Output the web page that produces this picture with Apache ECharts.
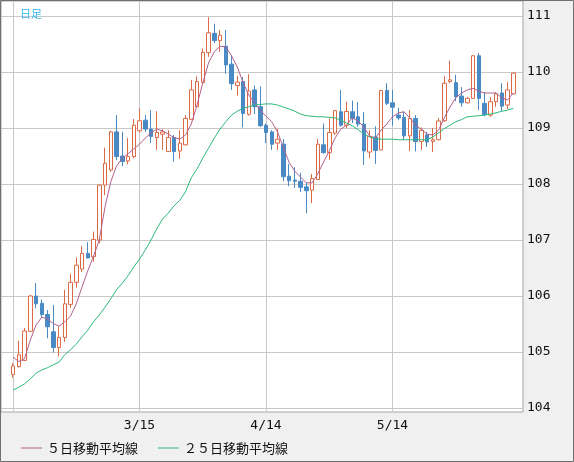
<!DOCTYPE html>
<html><head><meta charset="utf-8">
<script src="https://cdn.jsdelivr.net/npm/echarts@6/dist/echarts.min.js"></script>
<style>html,body{margin:0;padding:0;background:#f0f0f0}#c{width:574px;height:462px}</style>
</head><body><div id="c"></div>
<script>
const dates = [
 '2021-02-11','2021-02-12','2021-02-15','2021-02-16','2021-02-17','2021-02-18','2021-02-19','2021-02-22','2021-02-23','2021-02-24','2021-02-25','2021-02-26',
 '2021-03-01','2021-03-02','2021-03-03','2021-03-04','2021-03-05','2021-03-08','2021-03-09','2021-03-10','2021-03-11','2021-03-12',
 '2021-03-15','2021-03-16','2021-03-17','2021-03-18','2021-03-19','2021-03-22','2021-03-23','2021-03-24','2021-03-25','2021-03-26','2021-03-29','2021-03-30','2021-03-31',
 '2021-04-01','2021-04-02','2021-04-05','2021-04-06','2021-04-07','2021-04-08','2021-04-09','2021-04-12','2021-04-13',
 '2021-04-14','2021-04-15','2021-04-16','2021-04-19','2021-04-20','2021-04-21','2021-04-22','2021-04-23','2021-04-26','2021-04-27','2021-04-28','2021-04-29','2021-04-30',
 '2021-05-03','2021-05-04','2021-05-05','2021-05-06','2021-05-07','2021-05-10','2021-05-11','2021-05-12','2021-05-13',
 '2021-05-14','2021-05-17','2021-05-18','2021-05-19','2021-05-20','2021-05-21','2021-05-24','2021-05-25','2021-05-26','2021-05-27','2021-05-28','2021-05-31',
 '2021-06-01','2021-06-02','2021-06-03','2021-06-04','2021-06-07','2021-06-08','2021-06-09','2021-06-10','2021-06-11','2021-06-14'
];
const open = [104.60,104.74,104.85,105.37,106.00,105.87,105.67,105.36,105.08,105.26,105.85,106.245,106.48,106.76,106.70,107.00,107.98,108.25,108.93,108.50,108.41,108.49,
 108.95,109.14,108.98,108.83,108.89,108.58,108.83,108.59,108.70,109.155,109.38,109.81,110.345,110.69,110.56,110.46,110.14,109.76,109.83,109.245,109.68,109.38,
 109.05,108.93,108.73,108.71,108.14,108.07,108.05,107.95,107.89,108.08,108.70,108.56,108.91,109.29,109.05,109.29,109.20,109.07,108.57,108.84,108.61,109.67,
 109.45,109.23,109.19,108.86,109.17,108.76,108.875,108.76,108.79,109.13,109.83,109.81,109.57,109.45,109.53,110.29,109.44,109.23,109.47,109.625,109.41,109.61];
const close = [104.75,104.95,105.375,106.00,105.86,105.67,105.45,105.08,105.26,105.86,106.245,106.55,106.76,106.68,107.01,107.98,108.37,108.93,108.49,108.40,108.49,109.05,
 109.13,108.98,108.85,108.92,108.93,108.83,108.58,108.73,109.17,109.68,109.83,110.35,110.70,110.56,110.655,110.125,109.79,109.82,109.26,109.66,109.38,109.04,
 108.92,108.71,108.80,108.13,108.06,108.05,107.94,107.88,108.10,108.71,108.56,108.92,109.31,109.05,109.295,109.17,109.07,108.59,108.85,108.60,109.67,109.44,
 109.37,109.18,108.86,109.17,108.76,108.96,108.75,108.79,109.125,109.80,109.86,109.56,109.45,109.53,110.29,109.53,109.24,109.47,109.61,109.39,109.68,109.98];
const low = [104.54,104.72,104.84,105.36,105.78,105.62,105.245,104.99,104.92,105.18,105.79,106.15,106.43,106.67,106.61,106.94,107.80,108.22,108.43,108.32,108.35,108.46,
 108.92,108.93,108.73,108.61,108.61,108.58,108.40,108.45,108.69,109.14,109.37,109.80,110.27,110.52,110.36,109.97,109.68,109.58,109.01,109.22,109.25,109.02,
 108.73,108.61,108.61,108.05,107.96,107.93,107.86,107.48,107.66,108.07,108.54,108.43,108.875,109.02,109.00,109.09,109.02,108.34,108.46,108.36,108.60,109.41,
 109.04,109.14,108.79,108.59,108.58,108.61,108.66,108.57,108.78,109.11,109.80,109.48,109.38,109.44,109.52,109.32,109.21,109.20,109.38,109.30,109.34,109.60];
const high = [104.80,105.20,105.43,106.02,106.23,105.94,105.75,105.84,105.45,106.11,106.40,106.69,106.89,106.96,107.15,107.99,108.65,108.95,109.23,108.93,108.82,109.16,
 109.35,109.23,109.32,109.30,108.98,108.96,108.875,108.96,109.23,109.86,109.92,110.42,110.98,110.86,110.75,110.75,110.30,109.93,109.91,109.96,109.76,109.74,
 109.08,108.96,108.98,108.80,108.36,108.30,108.20,108.03,108.18,108.80,109.08,109.17,109.32,109.68,109.47,109.49,109.46,109.28,108.96,109.03,109.68,109.80,
 109.68,109.36,109.30,109.32,109.23,109.01,108.93,109.00,109.18,109.93,110.20,109.95,109.73,109.555,110.30,110.34,109.64,109.55,109.64,109.80,109.82,109.99];
const ma5 = [104.91,104.83,104.88,105.21,105.48,105.62,105.59,105.51,105.46,105.54,105.64,105.86,106.16,106.45,106.71,107.00,107.59,108.04,108.32,108.46,108.54,108.625,
 108.71,108.82,108.91,108.98,108.95,108.89,108.83,108.80,108.875,109.07,109.41,109.80,110.16,110.36,110.46,110.45,110.29,110.09,109.82,109.59,109.45,109.32,
 109.21,109.11,108.93,108.66,108.39,108.23,108.125,108.02,108.02,108.18,108.39,108.59,108.82,108.98,109.05,109.18,109.125,109.02,108.86,108.82,108.96,109.07,
 109.20,109.27,109.29,109.18,109.05,108.98,108.89,108.875,108.96,109.18,109.375,109.54,109.625,109.68,109.71,109.66,109.625,109.625,109.625,109.54,109.50,109.625];
const ma25 = [104.32,104.37,104.43,104.52,104.62,104.68,104.72,104.77,104.82,104.95,105.04,105.14,105.27,105.39,105.54,105.66,105.80,105.95,106.11,106.23,106.36,106.52,
 106.66,106.82,107.00,107.20,107.375,107.48,107.61,107.71,107.86,108.11,108.27,108.46,108.64,108.82,108.98,109.11,109.23,109.30,109.35,109.38,109.41,109.42,
 109.43,109.43,109.41,109.375,109.34,109.30,109.25,109.22,109.21,109.20,109.20,109.19,109.18,109.14,109.09,109.04,108.97,108.90,108.84,108.81,108.80,108.80,
 108.80,108.79,108.79,108.79,108.79,108.79,108.79,108.84,108.91,108.99,109.05,109.11,109.15,109.20,109.21,109.22,109.23,109.25,109.27,109.30,109.32,109.35];
const yTicks = [104,105,106,107,108,109,110,111];
const xGridIdx = [0,22,44,66];
const xLabelIdx = [22,44,66];
const maNames = ['５日移動平均線','２５日移動平均線'];
const chartTitle = '日足';

const chart = echarts.init(document.getElementById('c'), null, {renderer:'canvas'});
const candles = dates.map((_, i) => [i, open[i], close[i], low[i], high[i]]);
const fmtDate = v => { const d = dates[Math.round(v)]; if (!d) return ''; const p = d.split('-'); return (+p[1]) + '/' + (+p[2]); };
const mono = 'DejaVu Sans Mono';
chart.setOption({
  animation: false,
  backgroundColor: '#f0f0f0',
  title: {text: chartTitle, left: 15, top: 3, textStyle: {fontSize: 11, fontWeight: 'normal', color: '#35b6ee', fontFamily: 'Noto Sans CJK JP'}},
  graphic: [{type: 'rect', silent: true, z: 100, shape: {x: 0.5, y: 0.5, width: 573, height: 461}, style: {fill: null, stroke: '#707070', lineWidth: 1}}],
  legend: {
    data: maNames, left: 16, top: 436, icon: 'rect', itemWidth: 21, itemHeight: 1, itemGap: 20,
    textStyle: {fontSize: 13, lineHeight: 14, color: '#111', fontFamily: 'Noto Sans CJK JP'}
  },
  grid: {left: 1, top: 1, right: 51, bottom: 50, show: true, backgroundColor: '#fff', borderColor: '#a4a4a4', borderWidth: 1},
  xAxis: {
    type: 'value', min: -12/5.75, max: 510/5.75,
    axisLine: {show: false},
    axisTick: {show: false, customValues: xGridIdx},
    axisLabel: {customValues: xLabelIdx, formatter: fmtDate, margin: 7, fontSize: 13, color: '#111', fontFamily: mono},
    splitLine: {show: true, lineStyle: {color: '#c8c8c8', width: 1}}
  },
  yAxis: {
    type: 'value', position: 'right', min: 111 - 396/56, max: 111 + 15/56,
    axisLine: {show: false},
    axisTick: {show: false, customValues: yTicks},
    axisLabel: {customValues: yTicks, margin: 4, fontSize: 13, color: '#111', fontFamily: mono},
    splitLine: {show: true, lineStyle: {color: '#c8c8c8', width: 1}}
  },
  series: [
    {type: 'candlestick', data: candles, encode: {x: 0, y: [1,2,3,4]}, barWidth: 4,
     itemStyle: {color: '#ffffff', color0: '#4a8ac4', borderColor: '#dc6a45', borderColor0: '#4a8ac4', borderWidth: 1}},
    {type: 'line', name: maNames[0], data: ma5.map((v, i) => [i, v]), showSymbol: false, symbol: 'none',
     lineStyle: {color: '#b5608e', width: 1}, itemStyle: {color: '#b5608e'}},
    {type: 'line', name: maNames[1], data: ma25.map((v, i) => [i, v]), showSymbol: false, symbol: 'none',
     lineStyle: {color: '#2db87a', width: 1}, itemStyle: {color: '#2db87a'}}
  ]
});
</script></body></html>
